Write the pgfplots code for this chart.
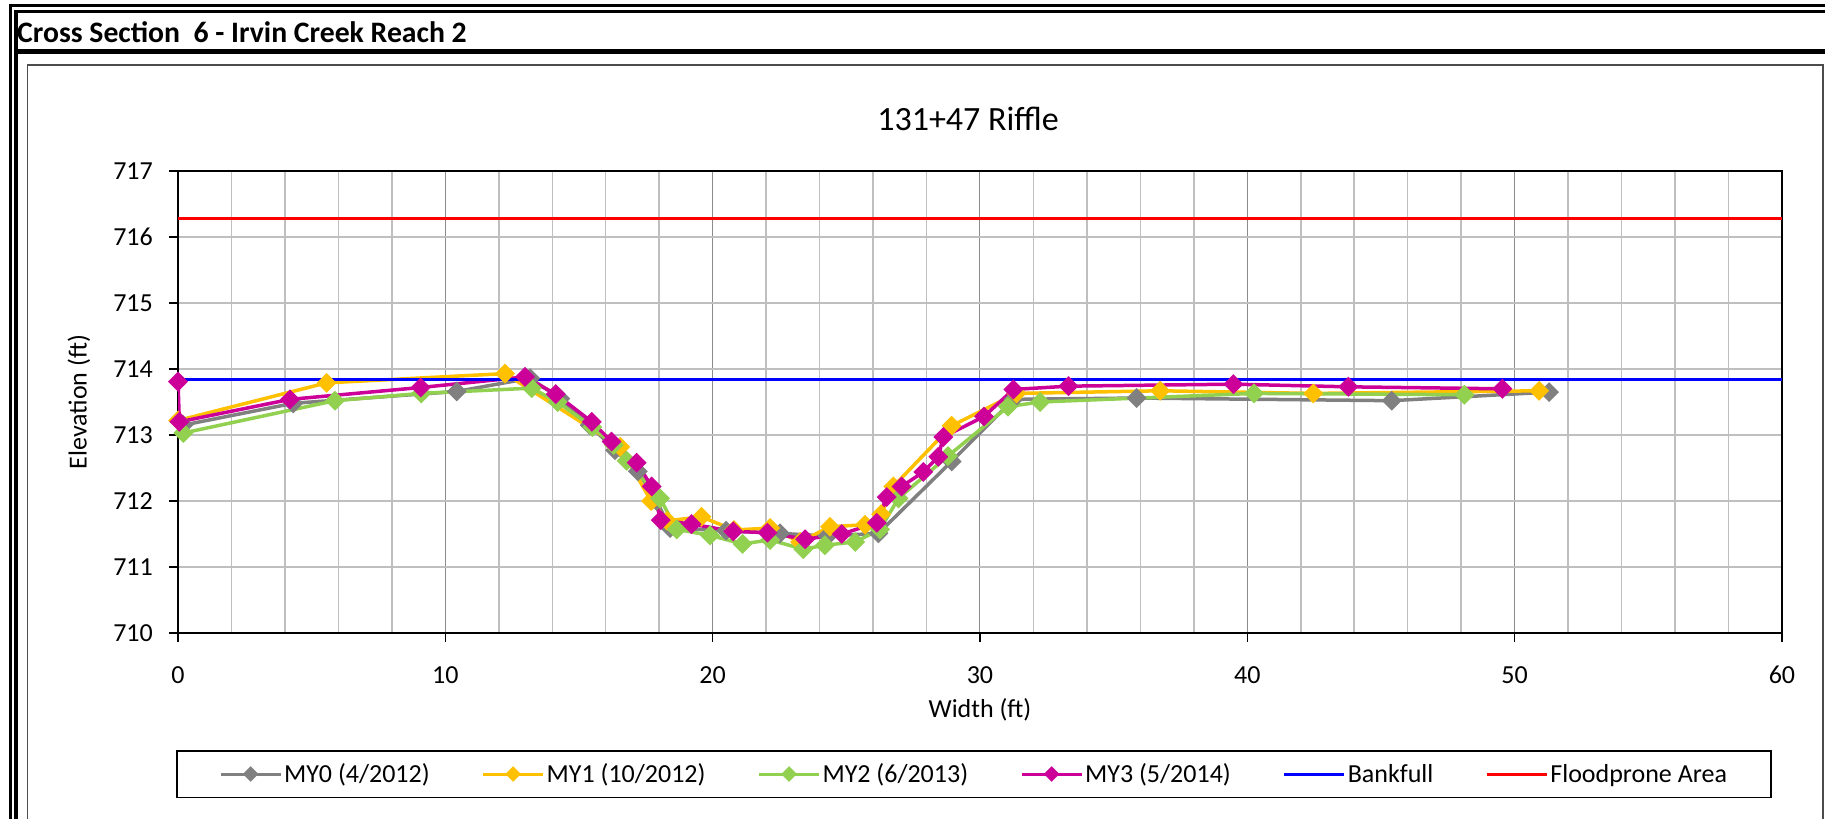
\documentclass[border=0pt]{standalone}
\usepackage{pgfplots}
\pgfplotsset{compat=1.18}
\usepackage{fontspec}
\setmainfont{Carlito}
\definecolor{cgray}{HTML}{808080}
\definecolor{cyel}{HTML}{FFC000}
\definecolor{cgrn}{HTML}{92D050}
\definecolor{cmag}{HTML}{CC0099}
\definecolor{gridc}{HTML}{BFBFBF}
\definecolor{gridd}{HTML}{8C8C8C}
\begin{document}
\begin{tikzpicture}
\path[use as bounding box, fill=white] (0,0) rectangle (1825bp,819bp);
% outer frame
\draw[line width=3bp] (8.75bp,813.5bp) -- (1825bp,813.5bp);
\draw[line width=3bp] (14.25bp,807bp) -- (1825bp,807bp);
\draw[line width=3.5bp] (10.5bp,815bp) -- (10.5bp,0bp);
\draw[line width=3.5bp] (16bp,808.5bp) -- (16bp,0bp);
\draw[line width=5bp] (14.25bp,767.5bp) -- (1825bp,767.5bp);
\draw[black!70, line width=1.5bp] (27.5bp,0bp) -- (27.5bp,754bp) -- (1823bp,754bp) -- (1823bp,0bp);
\node[anchor=west, inner sep=0pt, font=\bfseries\fontsize{29.7bp}{36bp}\selectfont] at (17bp,787bp) {Cross Section\ \ 6 - Irvin Creek Reach 2};
\node[inner sep=0pt, font=\fontsize{34bp}{40bp}\selectfont] at (968bp,700bp) {131+47 Riffle};
\node[inner sep=0pt, font=\fontsize{26bp}{30bp}\selectfont] at (980bp,109bp) {Width (ft)};
\node[inner sep=0pt, rotate=90, font=\fontsize{26bp}{30bp}\selectfont] at (79bp,417bp) {Elevation (ft)};
\begin{axis}[
  at={(178bp,186bp)}, anchor=south west, scale only axis,
  width=1604bp, height=462bp,
  xmin=0, xmax=60, ymin=710, ymax=717,
  xtick={0,10,...,60}, ytick={710,711,...,717},
  xtick pos=bottom, ytick pos=left,
  minor x tick num=4,
  grid=both,
  major x grid style={gridd, line width=1bp},
  minor x grid style={gridc, line width=1.5bp},
  major y grid style={gridc, line width=1.5bp},
  tick align=outside, major tick length=9bp, minor tick length=0pt,
  tick style={black, line width=1.2bp},
  axis line style={black, line width=2bp},
  /pgf/number format/assume math mode=true,
  /pgf/number format/1000 sep={},
  every tick label/.append style={font=\fontsize{26bp}{30bp}\selectfont},
  xticklabel style={anchor=center, inner sep=0pt, yshift=-33bp},
  yticklabel style={anchor=east, inner sep=0pt, xshift=-16bp},
  legend columns=6,
  legend style={at={(0.4963,-0.3052)}, anchor=center, draw=black, line width=1.5bp,
    inner xsep=42bp, inner ysep=11bp, font=\fontsize{26bp}{30bp}\selectfont,
    /tikz/every even column/.append style={column sep=50bp}},
  legend image code/.code={\draw[mark repeat=2,mark phase=2,#1,line width=3bp,mark size=4bp] plot coordinates {(0bp,0bp) (30bp,0bp) (60bp,0bp)};},
]
\addplot[color=cgray, line width=3.5bp, mark=square*, mark size=5.3bp, mark options={rotate=45, solid}] coordinates {
(0.2,713.15) (4.31,713.48) (10.43,713.66) (13.17,713.86) (14.3,713.55) (15.4,713.15)
(16.35,712.77) (17.2,712.45) (17.9,712.0) (18.41,711.59) (20.5,711.55) (22.52,711.51)
(24.3,711.47) (26.2,711.51) (28.94,712.6) (31.25,713.54) (35.86,713.56) (45.4,713.52) (51.29,713.65)};
\addlegendentry{MY0 (4/2012)}
\addplot[color=cyel, line width=3.5bp, mark=square*, mark size=5.3bp, mark options={rotate=45, solid}] coordinates {
(0,713.22) (5.56,713.79) (12.23,713.93) (16.54,712.82) (17.7,712.0) (18.3,711.7)
(19.58,711.76) (20.8,711.56) (22.15,711.59) (23.27,711.38) (24.39,711.61) (25.7,711.64)
(26.3,711.8) (26.76,712.22) (28.94,713.14) (31.37,713.63) (36.74,713.67) (42.47,713.63) (50.92,713.67)};
\addlegendentry{MY1 (10/2012)}
\addplot[color=cgrn, line width=3.5bp, mark=square*, mark size=5.3bp, mark options={rotate=45, solid}] coordinates {
(0.2,713.03) (5.87,713.52) (9.1,713.63) (13.23,713.71) (14.2,713.5) (15.5,713.12)
(16.3,712.85) (16.78,712.61) (18.03,712.04) (18.66,711.57) (19.9,711.48) (21.12,711.35)
(22.15,711.41) (23.39,711.27) (24.2,711.33) (25.33,711.38) (26.26,711.57) (26.95,712.04)
(28.8,712.68) (31.05,713.43) (32.25,713.5) (40.25,713.63) (48.12,713.61)};
\addlegendentry{MY2 (6/2013)}
\addplot[color=cmag, line width=3.5bp, mark=square*, mark size=5.3bp, mark options={rotate=45, solid}] coordinates {
(0,713.81) (0.05,713.2) (4.19,713.54) (9.08,713.72) (12.98,713.88) (14.13,713.62)
(15.48,713.2) (16.22,712.9) (17.16,712.58) (17.72,712.22) (18.06,711.71) (19.21,711.65)
(20.77,711.54) (22.05,711.52) (23.46,711.42) (24.83,711.5) (26.14,711.67) (26.51,712.06)
(27.07,712.22) (27.88,712.44) (28.44,712.67) (28.63,712.97) (30.15,713.28) (31.25,713.69)
(33.31,713.74) (39.48,713.77) (43.78,713.73) (49.54,713.7)};
\addlegendentry{MY3 (5/2014)}
\addplot[color=blue, line width=2.5bp, mark=none] coordinates {(0,713.84) (60,713.84)};
\addlegendentry{Bankfull}
\addplot[color=red, line width=2.5bp, mark=none] coordinates {(0,716.28) (60,716.28)};
\addlegendentry{Floodprone Area}
\end{axis}
\end{tikzpicture}
\end{document}
